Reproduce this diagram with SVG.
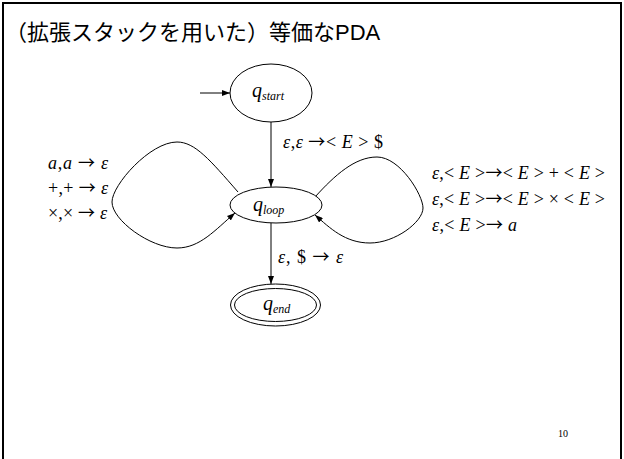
<svg xmlns="http://www.w3.org/2000/svg" width="624" height="459" viewBox="0 0 624 459">
<style>
.edge{fill:none;stroke:#000;stroke-width:1}
.node{fill:#fff;stroke:#000;stroke-width:1}
.m{font-family:"Liberation Serif","Times New Roman",serif;font-size:18px;fill:#000}
.i{font-style:italic}
.ar{font-family:"Noto Sans CJK JP",sans-serif;font-size:17px}
.q{font-family:"Liberation Serif","Times New Roman",serif;font-style:italic;font-size:20px;fill:#000}
.sub{font-size:12px}
.title{font-family:"Liberation Sans","Noto Sans CJK JP",sans-serif;font-size:22px;fill:#000}
</style>
<defs>
<marker id="ah" markerWidth="8" markerHeight="6" refX="8" refY="3" orient="auto" markerUnits="userSpaceOnUse"><path d="M0,0 L8,3 L0,6 z" fill="#000"/></marker>
</defs>
<rect x="3" y="3" width="618" height="480" fill="#fff" stroke="#000" stroke-width="2"/>
<text class="title" x="5" y="40">（拡張スタックを用いた）等価なPDA</text>

<g id="connectors">
<line class="edge" x1="200" y1="93" x2="230" y2="93" marker-end="url(#ah)"/>
<line class="edge" x1="271" y1="122" x2="271" y2="187" marker-end="url(#ah)"/>
<line class="edge" x1="271" y1="223" x2="271" y2="284" marker-end="url(#ah)"/>
<path class="edge" d="M238,192 C210,160 195,142 177,142 C150,142 112,185 112,202 C112,220 150,248 177,248 C200,248 215,230 235,213" marker-end="url(#ah)"/>
<path class="edge" d="M315,197 C335,175 355,157 377,157 C400,157 423,195 423,208 C423,222 395,243 370,243 C345,243 330,228 315,215" marker-end="url(#ah)"/>
</g>

<g id="labels">
<text class="m" x="283" y="148" textLength="100" lengthAdjust="spacing"><tspan class="i">ε</tspan>,<tspan class="i">ε</tspan> <tspan class="ar">→</tspan>&lt; <tspan class="i">E</tspan> &gt; $</text>
<text class="m" x="48" y="169" textLength="60" lengthAdjust="spacing"><tspan class="i">a</tspan>,<tspan class="i">a</tspan> <tspan class="ar">→</tspan> <tspan class="i">ε</tspan></text>
<text class="m" x="48" y="194" textLength="60" lengthAdjust="spacing">+,+ <tspan class="ar">→</tspan> <tspan class="i">ε</tspan></text>
<text class="m" x="48" y="219" textLength="59" lengthAdjust="spacing">×,× <tspan class="ar">→</tspan> <tspan class="i">ε</tspan></text>
<text class="m" x="432" y="179" textLength="173" lengthAdjust="spacing"><tspan class="i">ε</tspan>,&lt; <tspan class="i">E</tspan> &gt;<tspan class="ar">→</tspan>&lt; <tspan class="i">E</tspan> &gt; + &lt; <tspan class="i">E</tspan> &gt;</text>
<text class="m" x="432" y="205" textLength="173" lengthAdjust="spacing"><tspan class="i">ε</tspan>,&lt; <tspan class="i">E</tspan> &gt;<tspan class="ar">→</tspan>&lt; <tspan class="i">E</tspan> &gt; × &lt; <tspan class="i">E</tspan> &gt;</text>
<text class="m" x="432" y="231" textLength="85" lengthAdjust="spacing"><tspan class="i">ε</tspan>,&lt; <tspan class="i">E</tspan> &gt;<tspan class="ar">→</tspan> <tspan class="i">a</tspan></text>
<text class="m" x="278" y="263" textLength="65" lengthAdjust="spacing"><tspan class="i">ε</tspan>, $ <tspan class="ar">→</tspan> <tspan class="i">ε</tspan></text>
</g>

<g id="q_start">
<ellipse class="node" cx="271" cy="93" rx="41" ry="29"/>
<text class="q" x="252" y="97">q<tspan class="sub" dy="3">start</tspan></text>
</g>
<g id="q_loop">
<ellipse class="node" cx="276" cy="205" rx="46" ry="18"/>
<text class="q" x="253" y="211">q<tspan class="sub" dy="3">loop</tspan></text>
</g>
<g id="q_end">
<ellipse class="node" cx="275.5" cy="305" rx="45" ry="21"/>
<ellipse class="node" cx="275.5" cy="305" rx="41" ry="16.5"/>
<text class="q" x="263" y="310">q<tspan class="sub" dy="3">end</tspan></text>
</g>

<text class="m" x="558" y="437" style="font-size:10px">10</text>
</svg>
